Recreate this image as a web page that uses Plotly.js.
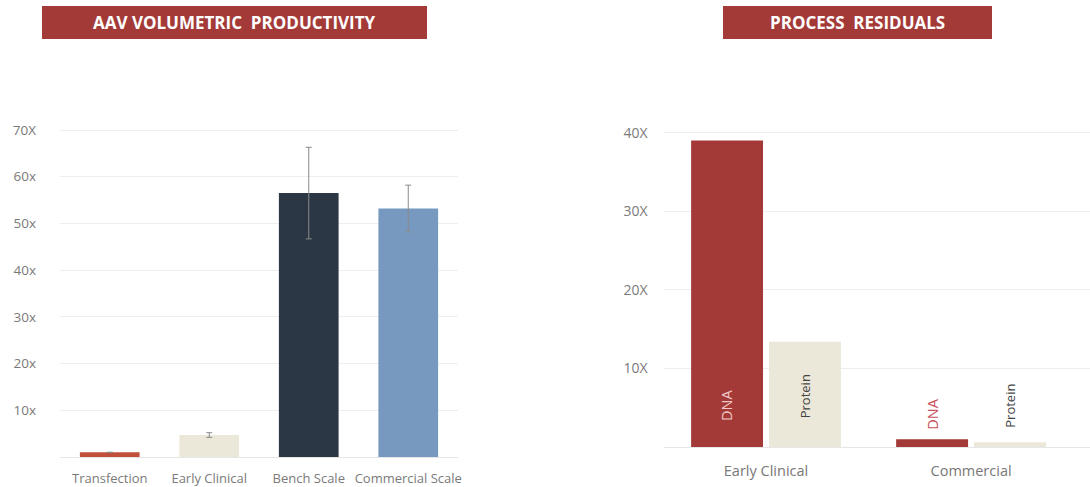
<!DOCTYPE html>
<html>
<head>
<meta charset="utf-8">
<script src="https://cdn.plot.ly/plotly-3.0.1.min.js"></script>
<style>
  html, body { margin: 0; padding: 0; background: #fff; }
  #chart { width: 1090px; height: 487px; }
</style>
</head>
<body>
<div id="chart"></div>
<script>
// Volumetric productivity by process stage (fold change)
const prodStages = ['Transfection', 'Early Clinical', 'Bench Scale', 'Commercial Scale'];
const prodValues = [1, 4.7, 56.5, 53.2];
const prodErrors = [0, 0.5, 9.8, 5];
const prodColors = ['#C0503A', '#ECE8D9', '#2B3744', '#7799C0'];
const prodTickVals = [10, 20, 30, 40, 50, 60, 70];
const prodTickText = ['10x', '20x', '30x', '40x', '50x', '60x', '70X'];

// Process residuals (fold reduction) per scale
const resStages = ['Early Clinical', 'Commercial'];
const dnaValues = [39, 1];
const proteinValues = [13.4, 0.6];
const resTickVals = [10, 20, 30, 40];
const resTickText = ['10X', '20X', '30X', '40X'];

const RED = '#A33A38';
const BEIGE = '#ECE8D9';
const FONT = '"Open Sans", "Noto Sans", sans-serif';
const W = 1090, H = 487;
const px = v => v / W;
const py = v => 1 - v / H;

const traces = [
  {
    type: 'bar', x: prodStages, y: prodValues,
    xaxis: 'x', yaxis: 'y',
    width: 0.6,
    marker: { color: prodColors },
    error_y: { type: 'data', array: prodErrors, visible: true, color: '#8a8a8a', thickness: 1, width: 3 },
    hoverinfo: 'x+y', showlegend: false
  },
  {
    type: 'bar', name: 'DNA', x: resStages, y: dnaValues,
    xaxis: 'x2', yaxis: 'y2',
    marker: { color: RED }, showlegend: false
  },
  {
    type: 'bar', name: 'Protein', x: resStages, y: proteinValues,
    xaxis: 'x2', yaxis: 'y2',
    marker: { color: BEIGE }, showlegend: false
  }
];

const layout = {
  width: W, height: H,
  margin: { l: 0, r: 0, t: 0, b: 0 },
  paper_bgcolor: '#fff', plot_bgcolor: '#fff',
  showlegend: false,
  barmode: 'group',
  bargap: 0.24,
  bargroupgap: 0.077,
  xaxis: {
    domain: [px(60), px(458)],
    anchor: 'y',
    type: 'category',
    tickfont: { family: FONT, size: 13, color: '#7a7a7a' },
    showgrid: false, zeroline: false, showline: false,
    ticks: '', ticklen: 0, ticklabelstandoff: 12
  },
  yaxis: {
    domain: [1 - 457 / H, 1 - 120.7 / H],
    anchor: 'x',
    range: [0, 72],
    tickvals: prodTickVals, ticktext: prodTickText,
    tickfont: { family: FONT, size: 13.5, color: '#7a7a7a' },
    gridcolor: '#eeeeee', gridwidth: 1,
    zeroline: true, zerolinecolor: '#e6e6e6', zerolinewidth: 1,
    showline: false, ticks: '', ticklabelstandoff: 23
  },
  xaxis2: {
    domain: [px(663.5), 1],
    anchor: 'y2',
    type: 'category',
    range: [-0.5, 1.58],
    tickfont: { family: FONT, size: 14.5, color: '#777' },
    showgrid: false, zeroline: false, showline: false,
    ticks: '', ticklen: 0, ticklabelstandoff: 13
  },
  yaxis2: {
    domain: [1 - 447 / H, 1 - 117 / H],
    anchor: 'x2',
    range: [0, 42],
    tickvals: resTickVals, ticktext: resTickText,
    tickfont: { family: FONT, size: 14, color: '#7a7a7a' },
    gridcolor: '#eeeeee', gridwidth: 1,
    zeroline: true, zerolinecolor: '#e6e6e6', zerolinewidth: 1,
    showline: false, ticks: '', ticklabelstandoff: 15
  },
  shapes: [
    { type: 'rect', xref: 'paper', yref: 'paper', x0: px(42), x1: px(427), y0: py(39), y1: py(6),
      fillcolor: RED, line: { width: 0 }, layer: 'below' },
    { type: 'rect', xref: 'paper', yref: 'paper', x0: px(723), x1: px(992), y0: py(39), y1: py(6),
      fillcolor: RED, line: { width: 0 }, layer: 'below' }
  ],
  annotations: [
    { xref: 'paper', yref: 'paper', x: px(234.5), y: py(22.5), text: '<b>AAV VOLUMETRIC  PRODUCTIVITY</b>',
      showarrow: false, font: { family: FONT, size: 17, color: '#ffffff' }, xanchor: 'center', yanchor: 'middle' },
    { xref: 'paper', yref: 'paper', x: px(857.5), y: py(22.5), text: '<b>PROCESS  RESIDUALS</b>',
      showarrow: false, font: { family: FONT, size: 17, color: '#ffffff' }, xanchor: 'center', yanchor: 'middle' },
    // series labels on the residual bars
    { xref: 'x2', yref: 'y2', x: -0.19, y: 3, text: 'DNA', textangle: -90, showarrow: false,
      yanchor: 'bottom', font: { family: FONT, size: 14.5, color: '#f2c6c6' } },
    { xref: 'x2', yref: 'y2', x: 0.19, y: 3.4, text: 'Protein', textangle: -90, showarrow: false,
      yanchor: 'bottom', font: { family: FONT, size: 13, color: '#444' } },
    { xref: 'x2', yref: 'y2', x: 0.81, y: 1.9, text: 'DNA', textangle: -90, showarrow: false,
      yanchor: 'bottom', font: { family: FONT, size: 14.5, color: '#C8505A' } },
    { xref: 'x2', yref: 'y2', x: 1.19, y: 2.2, text: 'Protein', textangle: -90, showarrow: false,
      yanchor: 'bottom', font: { family: FONT, size: 13, color: '#444' } }
  ]
};

Plotly.newPlot('chart', traces, layout, { displayModeBar: false, staticPlot: true });
</script>
</body>
</html>
